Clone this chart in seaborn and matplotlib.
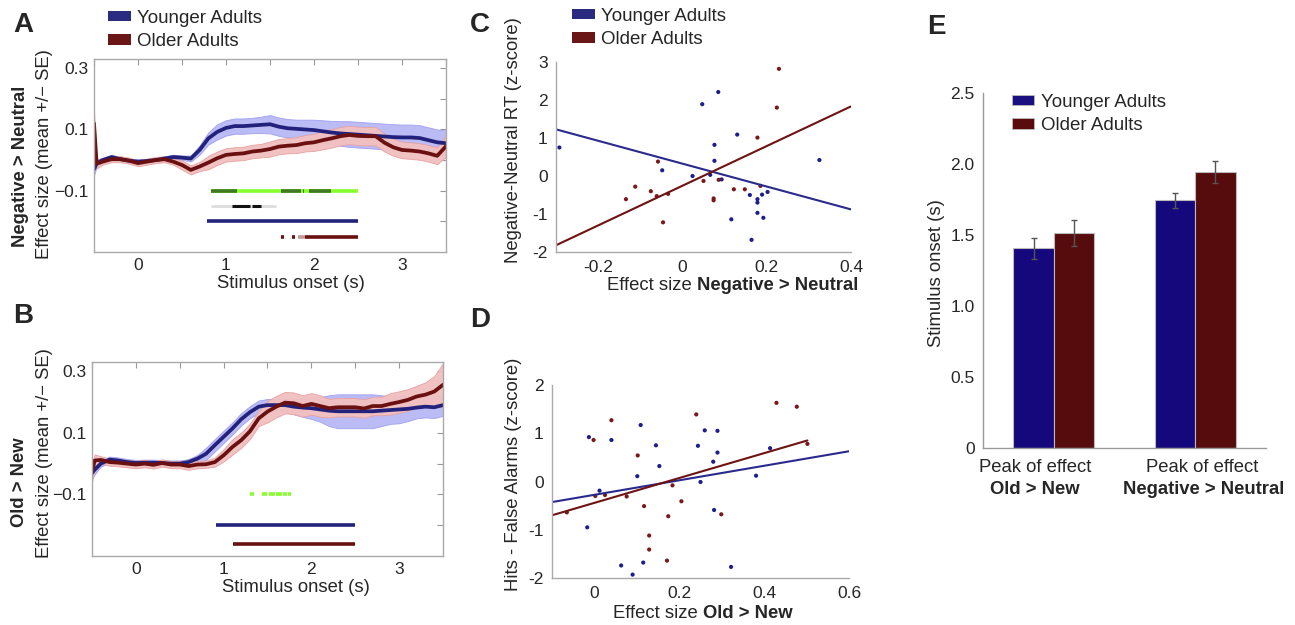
import numpy as np
import pandas as pd
import seaborn as sns
import matplotlib
matplotlib.use('Agg')
import matplotlib.pyplot as plt
from matplotlib.patches import Patch

sns.set_style('white')
plt.rcParams['font.family'] = ['Liberation Sans', 'DejaVu Sans']
plt.rcParams['axes.unicode_minus'] = True

W, H = 1295, 625

# ---- panels A / B : effect size over time (mean +/- SE) ----
t = [-0.5, -0.47, -0.4, -0.3, -0.2, -0.1, 0.0, 0.1, 0.2, 0.3, 0.4, 0.5, 0.6, 0.7,
     0.8, 0.9, 1.0, 1.1, 1.2, 1.3, 1.4, 1.5, 1.6, 1.7, 1.8, 1.9, 2.0, 2.1, 2.2,
     2.3, 2.4, 2.5, 2.6, 2.7, 2.8, 2.9, 3.0, 3.1, 3.2, 3.3, 3.4, 3.5]

a_young = [-0.03, -0.01, 0.0, 0.01, 0.003, -0.002, -0.005, -0.003, 0.0, 0.005, 0.01,
           0.008, 0.005, 0.033, 0.071, 0.092, 0.105, 0.111, 0.111, 0.113, 0.115,
           0.117, 0.109, 0.104, 0.102, 0.100, 0.098, 0.094, 0.090, 0.087, 0.085,
           0.083, 0.081, 0.079, 0.077, 0.075, 0.074, 0.074, 0.072, 0.065, 0.058, 0.055]
a_young_se = [0.02, 0.012, 0.008, 0.007, 0.007, 0.007, 0.007, 0.007, 0.007, 0.007,
              0.007, 0.007, 0.01, 0.015, 0.02, 0.025, 0.025, 0.025, 0.025, 0.025,
              0.027, 0.03, 0.03, 0.03, 0.03, 0.032, 0.034, 0.036, 0.038, 0.04,
              0.042, 0.042, 0.042, 0.042, 0.042, 0.042, 0.042, 0.042, 0.042, 0.042,
              0.042, 0.042]
a_old = [0.12, -0.012, -0.005, 0.003, 0.003, -0.002, -0.01, -0.005, 0.0, 0.003, -0.005,
         -0.016, -0.032, -0.021, -0.008, 0.006, 0.017, 0.02, 0.022, 0.028, 0.031,
         0.036, 0.044, 0.047, 0.049, 0.055, 0.058, 0.065, 0.071, 0.078, 0.082, 0.079,
         0.078, 0.078, 0.057, 0.042, 0.033, 0.031, 0.028, 0.022, 0.014, 0.045]
a_old_se = [0.04, 0.015, 0.01, 0.01, 0.01, 0.01, 0.01, 0.01, 0.01, 0.01, 0.01, 0.015,
            0.015, 0.015, 0.022, 0.022, 0.022, 0.022, 0.022, 0.022, 0.022, 0.025,
            0.025, 0.025, 0.026, 0.027, 0.028, 0.03, 0.03, 0.03, 0.03, 0.03,
            0.03, 0.03, 0.029, 0.028, 0.027, 0.027, 0.027, 0.027, 0.027, 0.035]

b_young = [-0.03, -0.02, 0.0, 0.013, 0.01, 0.005, 0.002, 0.003, 0.003, 0.002, 0.0,
           0.0, 0.005, 0.016, 0.032, 0.06, 0.087, 0.114, 0.144, 0.167, 0.185, 0.19,
           0.19, 0.19, 0.185, 0.182, 0.18, 0.176, 0.172, 0.17, 0.17, 0.17, 0.17,
           0.17, 0.172, 0.174, 0.176, 0.178, 0.182, 0.185, 0.183, 0.19]
b_young_se = [0.02, 0.015, 0.01, 0.01, 0.01, 0.01, 0.01, 0.01, 0.01, 0.01, 0.01, 0.01,
              0.01, 0.012, 0.02, 0.02, 0.02, 0.02, 0.02, 0.02, 0.02, 0.02, 0.02, 0.02,
              0.025, 0.03, 0.035, 0.04, 0.05, 0.055, 0.055, 0.055, 0.055, 0.055, 0.05,
              0.045, 0.045, 0.04, 0.035, 0.035, 0.035, 0.035]
b_old = [-0.03, 0.01, 0.012, 0.005, 0.003, 0.0, -0.003, 0.0, -0.004, 0.002, -0.003,
         -0.003, -0.008, -0.003, -0.002, 0.005, 0.027, 0.054, 0.076, 0.105, 0.147,
         0.169, 0.185, 0.198, 0.196, 0.187, 0.194, 0.187, 0.18, 0.183, 0.183, 0.183,
         0.179, 0.187, 0.187, 0.194, 0.2, 0.207, 0.218, 0.224, 0.234, 0.256]
b_old_se = [0.03, 0.02, 0.012, 0.012, 0.012, 0.012, 0.012, 0.012, 0.012, 0.012, 0.012,
            0.012, 0.012, 0.012, 0.012, 0.015, 0.02, 0.025, 0.025, 0.025, 0.025,
            0.035, 0.035, 0.035, 0.035, 0.035, 0.035, 0.035, 0.03, 0.03, 0.03,
            0.03, 0.03, 0.03, 0.03, 0.035, 0.035, 0.035, 0.035, 0.04, 0.05, 0.07]

# significance rows (level, segments)
a_green_light = [(0.83, 2.5)]
a_green_dark = [(0.83, 1.12), (1.63, 1.85), (1.87, 1.89), (1.94, 2.19)]
a_gray_light = [(0.83, 1.57)]
a_gray_dark = [(1.07, 1.27), (1.30, 1.40)]
a_blue = [(0.78, 2.5)]
a_red_light = [(1.82, 1.90)]
a_red = [(1.63, 1.66), (1.75, 1.78), (1.90, 2.5)]

b_green = [(1.30, 1.35), (1.44, 1.50), (1.52, 1.58), (1.60, 1.66), (1.68, 1.72), (1.73, 1.77)]
b_blue = [(0.91, 2.5)]
b_red = [(1.11, 2.5)]

# ---- panel C : behaviour vs Negative > Neutral effect ----
c_young_x = [-0.292, -0.048, 0.024, 0.047, 0.066, 0.076, 0.076, 0.085, 0.093, 0.116,
             0.130, 0.160, 0.164, 0.178, 0.178, 0.178, 0.189, 0.192, 0.202, 0.325]
c_young_y = [0.75, 0.15, 0.0, 1.89, 0.03, 0.82, 0.40, 2.21, -0.09, -1.14, 1.09, -0.50,
             -1.68, -0.61, -0.70, -0.97, -0.49, -1.10, -0.42, 0.42]
c_old_x = [-0.134, -0.112, -0.075, -0.061, -0.058, -0.046, -0.034, 0.050, 0.074, 0.074,
           0.086, 0.122, 0.148, 0.178, 0.185, 0.224, 0.229]
c_old_y = [-0.61, -0.28, -0.40, -0.53, 0.38, -1.22, -0.47, -0.13, -0.59, -0.64, -0.10,
           -0.35, -0.35, 1.01, -0.26, 1.80, 2.82]

# ---- panel D : memory vs Old > New effect ----
d_young_x = [-0.013, -0.017, 0.012, 0.040, 0.063, 0.090, 0.101, 0.109, 0.115, 0.145,
             0.153, 0.244, 0.250, 0.260, 0.280, 0.282, 0.290, 0.290, 0.322, 0.381, 0.414]
d_young_y = [0.92, -0.95, -0.19, 0.86, -1.74, -1.93, 0.11, 1.17, -1.68, 0.75, 0.32,
             0.74, -0.01, 1.06, 0.41, -0.59, 1.05, 0.60, -1.77, 0.12, 0.69]
d_old_x = [-0.065, -0.002, 0.002, 0.025, 0.040, 0.076, 0.102, 0.117, 0.129, 0.129,
           0.171, 0.174, 0.184, 0.205, 0.240, 0.299, 0.429, 0.477, 0.502]
d_old_y = [-0.64, 0.86, -0.30, -0.28, 1.27, -0.31, 0.54, -0.51, -1.12, -1.41, -1.64,
           -0.72, -0.08, -0.41, 1.39, -0.68, 1.63, 1.55, 0.78]

# ---- panel E : peak latency ----
conditions = ['Old > New', 'Negative > Neutral']
groups = ['Younger Adults', 'Older Adults']
e_young = [1.405, 1.745]
e_young_se = [0.077, 0.052]
e_old = [1.515, 1.945]
e_old_se = [0.093, 0.076]

NAVY = '#22227c'
MAROON = '#6a1010'
BAND_Y = '#b4b4f6'
BAND_O = '#f1c0c0'

fig = plt.figure(figsize=(W / 100, H / 100), dpi=100)


def box(x0, y0, x1, y1):
    return [x0 / W, 1 - y1 / H, (x1 - x0) / W, (y1 - y0) / H]


def ftext(x, y, s, **kw):
    return fig.text(x / W, 1 - y / H, s, **kw)


def legend_at(ax, x, y, colors, edge='none'):
    handles = [Patch(facecolor=c, edgecolor=edge, lw=0.6) for c in colors]
    ax.legend(handles, groups, loc='upper left', bbox_to_anchor=(x / W, 1 - y / H),
              bbox_transform=fig.transFigure, frameon=False, fontsize=13.5,
              borderpad=0, borderaxespad=0, handlelength=1.2, handleheight=0.45,
              handletextpad=0.35, labelspacing=0.33)


def trace_panel(ax, yng, yng_se, old, old_se, rows):
    tt = np.array(t)
    yng, yng_se = np.array(yng), np.array(yng_se)
    old, old_se = np.array(old), np.array(old_se)
    ax.fill_between(tt, yng - yng_se, yng + yng_se, color=BAND_Y, lw=0.6,
                    edgecolor='#9a9af0', alpha=0.9)
    sns.lineplot(x=tt, y=yng, ax=ax, color=NAVY, lw=2.7)
    ax.fill_between(tt, old - old_se, old + old_se, color=BAND_O, lw=0.6,
                    edgecolor='#e8a0a0', alpha=0.97)
    sns.lineplot(x=tt, y=old, ax=ax, color=MAROON, lw=2.7)
    for level, color, segs, lw in rows:
        for a, b in segs:
            ax.hlines(level, a, b, color=color, lw=lw)
    ax.set_xlim(-0.5, 3.5)
    ax.set_ylim(-0.3, 0.33)
    ax.set_xticks([0, 1, 2, 3])
    ax.set_xticks([-0.5, 0.5, 1.5, 2.5, 3.5], minor=True)
    ax.set_yticks([-0.1, 0.1, 0.3])
    ax.set_yticks([-0.2, 0.0, 0.2], minor=True)
    ax.tick_params(which='both', direction='in', top=True, right=True, length=4,
                   width=0.8, color='#999999', labelsize=12.5, pad=4)
    for s in ax.spines.values():
        s.set_color('#aaaaaa')
        s.set_linewidth(1)
    ax.set_xlabel('')
    ax.set_ylabel('')


# ---- A ----
axA = fig.add_axes(box(94, 59, 446, 252))
trace_panel(axA, a_young, a_young_se, a_old, a_old_se, [
    (-0.1, '#86ff2a', a_green_light, 2.6),
    (-0.1, '#3f7a22', a_green_dark, 2.6),
    (-0.15, '#dddddd', a_gray_light, 2.0),
    (-0.15, '#111111', a_gray_dark, 2.2),
    (-0.2, NAVY, a_blue, 2.6),
    (-0.25, '#c79a9a', a_red_light, 2.6),
    (-0.25, MAROON, a_red, 2.6),
])
legend_at(axA, 108, 10, ['#2a2a80', '#6b1616'])
ftext(291, 283, 'Stimulus onset (s)', ha='center', va='center', fontsize=13.3)
ftext(21, 166, 'Negative > Neutral', rotation=90, ha='center', va='center',
      fontsize=13.3, weight='bold')
ftext(45, 154, 'Effect size (mean +/\u2212 SE)', rotation=90, ha='center',
      va='center', fontsize=13.3)

# ---- B ----
axB = fig.add_axes(box(92, 362, 443, 556))
trace_panel(axB, b_young, b_young_se, b_old, b_old_se, [
    (-0.1, '#86ff2a', b_green, 2.6),
    (-0.2, NAVY, b_blue, 2.6),
    (-0.26, MAROON, b_red, 2.6),
])
ftext(296, 587, 'Stimulus onset (s)', ha='center', va='center', fontsize=13.3)
ftext(20, 482, 'Old > New', rotation=90, ha='center', va='center',
      fontsize=13.3, weight='bold')
ftext(45, 453, 'Effect size (mean +/\u2212 SE)', rotation=90, ha='center',
      va='center', fontsize=13.3)


def scatter_panel(ax, yx, yy, ox, oy, xlim, ylim, xt, xminor, yt, yminor, red_trunc):
    ax.set_xlim(*xlim)
    ax.set_ylim(*ylim)
    sns.scatterplot(x=yx, y=yy, ax=ax, color='#1d1d8c', s=9, edgecolor='none')
    sns.scatterplot(x=ox, y=oy, ax=ax, color='#7a1818', s=9, edgecolor='none')
    m, b = np.polyfit(yx, yy, 1)
    xs = np.array(xlim)
    ax.plot(xs, m * xs + b, color='#2a2a8e', lw=1.5)
    m, b = np.polyfit(ox, oy, 1)
    xs = np.array([xlim[0], max(ox) if red_trunc else xlim[1]])
    ax.plot(xs, m * xs + b, color='#6e1212', lw=1.5)
    ax.set_xlim(*xlim)
    ax.set_ylim(*ylim)
    ax.set_xticks(xt, [('%g' % v) for v in xt])
    ax.set_xticks(xminor, minor=True)
    ax.set_yticks(yt, [('%g' % v) for v in yt])
    ax.set_yticks(yminor, minor=True)
    ax.tick_params(which='both', direction='in', length=4, width=0.8,
                   color='#aaaaaa', labelsize=12.5, pad=6)
    sns.despine(ax=ax)
    for s in ('left', 'bottom'):
        ax.spines[s].set_color('#aaaaaa')
        ax.spines[s].set_linewidth(1)
    ax.set_xlabel('')
    ax.set_ylabel('')


# ---- C ----
axC = fig.add_axes(box(556, 62, 851, 252))
scatter_panel(axC, c_young_x, c_young_y, c_old_x, c_old_y, (-0.3, 0.4), (-2, 3),
              [-0.2, 0, 0.2, 0.4], [-0.3, -0.1, 0.1, 0.3],
              [-2, -1, 0, 1, 2, 3], [-1.5, -0.5, 0.5, 1.5, 2.5], False)
legend_at(axC, 572, 8, ['#2a2a80', '#6b1616'])
t1 = ftext(607, 285, 'Effect size ', ha='left', va='center', fontsize=13.3)
axC.annotate('Negative > Neutral', xy=(1, 0), xycoords=t1, va='bottom', ha='left',
             fontsize=13.3, weight='bold', annotation_clip=False)
ftext(513, 140, 'Negative-Neutral RT (z-score)', rotation=90, ha='center',
      va='center', fontsize=13.3)

# ---- D ----
axD = fig.add_axes(box(552, 385, 849, 578))
scatter_panel(axD, d_young_x, d_young_y, d_old_x, d_old_y, (-0.1, 0.6), (-2, 2),
              [0, 0.2, 0.4, 0.6], [-0.1, 0.1, 0.3, 0.5],
              [-2, -1, 0, 1, 2], [-1.5, -0.5, 0.5, 1.5], True)
t2 = ftext(613, 613, 'Effect size ', ha='left', va='center', fontsize=13.3)
axD.annotate('Old > New', xy=(1, 0), xycoords=t2, va='bottom', ha='left',
             fontsize=13.3, weight='bold', annotation_clip=False)
ftext(513, 474, 'Hits - False Alarms (z-score)', rotation=90, ha='center',
      va='center', fontsize=13.3)

# ---- E ----
axE = fig.add_axes(box(983, 93, 1266, 448))
df_e = pd.DataFrame({
    'condition': conditions * 2,
    'group': [groups[0]] * 2 + [groups[1]] * 2,
    'onset': e_young + e_old,
    'se': e_young_se + e_old_se,
})
sns.barplot(data=df_e, x='condition', y='onset', hue='group', hue_order=groups,
            order=conditions, palette=['#15087c', '#560b0d'], width=0.57,
            errorbar=None, legend=False, edgecolor='#bbbbbb', linewidth=0.8,
            saturation=1, ax=axE)
for cont, ses in zip(axE.containers, [e_young_se, e_old_se]):
    for bar, se in zip(cont, ses):
        axE.errorbar(bar.get_x() + bar.get_width() / 2, bar.get_height(), yerr=se,
                     fmt='none', ecolor='#555555', elinewidth=1, capsize=2.5,
                     capthick=1)
axE.set_xlim(-0.5, 1.5)
axE.set_ylim(0, 2.5)
axE.set_yticks([0, 0.5, 1.0, 1.5, 2.0, 2.5], ['0', '0.5', '1.0', '1.5', '2.0', '2.5'])
axE.set_xticks([0, 1], ['', ''])
axE.tick_params(length=0, labelsize=12.5, pad=6)
axE.set_xlabel('')
axE.set_ylabel('')
sns.despine(ax=axE)
for s in ('left', 'bottom'):
    axE.spines[s].set_color('#999999')
    axE.spines[s].set_linewidth(1)
legend_at(axE, 1012, 94, ['#1a1080', '#5a0c0c'], edge='#bbbbbb')
ftext(1035, 467, 'Peak of effect', ha='center', va='center', fontsize=13.3)
ftext(1035, 490, 'Old > New', ha='center', va='center', fontsize=13.3, weight='bold')
ftext(1202, 467, 'Peak of effect', ha='center', va='center', fontsize=13.3)
ftext(1204, 490, 'Negative > Neutral', ha='center', va='center', fontsize=13.3,
      weight='bold')
ftext(937, 273, 'Stimulus onset (s)', rotation=90, ha='center', va='center',
      fontsize=13.3)

# panel letters
for letter, x, y in [('A', 23, 25), ('B', 23, 316), ('C', 480, 25), ('D', 480, 320),
                     ('E', 936, 27)]:
    ftext(x, y, letter, ha='center', va='center', fontsize=20, weight='bold')

fig.savefig('out.png', dpi=100)
